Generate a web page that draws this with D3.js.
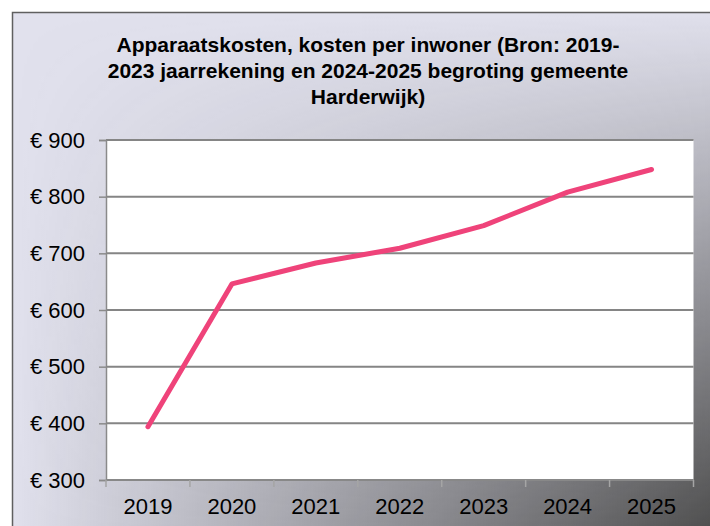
<!DOCTYPE html>
<html>
<head>
<meta charset="utf-8">
<script src="https://cdn.jsdelivr.net/npm/d3@7"></script>
<style>
  html, body { margin: 0; padding: 0; background: #fff; }
  #chart { width: 710px; height: 526px; }
</style>
</head>
<body>
<div id="chart"></div>
<script>
// --- data ---
const YEARS = ["2019", "2020", "2021", "2022", "2023", "2024", "2025"];
const KOSTEN = [394, 646, 683, 709, 749, 808, 848];
const Y_TICKS = [300, 400, 500, 600, 700, 800, 900];
const TITLE_LINES = [
  "Apparaatskosten, kosten per inwoner (Bron: 2019-",
  "2023 jaarrekening en 2024-2025 begroting gemeente",
  "Harderwijk)"
];

const W = 710, H = 526;
const FONT = "'Liberation Sans', Arial, sans-serif";

const svg = d3.select("#chart").append("svg")
  .attr("width", W).attr("height", H);

const defs = svg.append("defs");

// achtergrond: licht lavendel, donkerder naar rechtsonder
const gx = defs.append("linearGradient")
  .attr("id", "shadeX").attr("gradientUnits", "userSpaceOnUse")
  .attr("x1", 12).attr("y1", 0).attr("x2", 712).attr("y2", 0);
gx.append("stop").attr("offset", 0).attr("stop-color", "#4e4e4e").attr("stop-opacity", 0);
gx.append("stop").attr("offset", 1).attr("stop-color", "#4e4e4e").attr("stop-opacity", 1);

const gy = defs.append("linearGradient")
  .attr("id", "maskY").attr("gradientUnits", "userSpaceOnUse")
  .attr("x1", 0).attr("y1", 12).attr("x2", 0).attr("y2", 530);
gy.append("stop").attr("offset", 0).attr("stop-color", "#000");
gy.append("stop").attr("offset", 1).attr("stop-color", "#fff");

defs.append("mask").attr("id", "shadeMask")
  .append("rect").attr("x", 0).attr("y", 0).attr("width", W).attr("height", H)
  .attr("fill", "url(#maskY)");

svg.append("rect")
  .attr("x", 12.5).attr("y", 12.5).attr("width", 720).attr("height", 540)
  .attr("fill", "#e1e1ed").attr("stroke", "#5f5f5f").attr("stroke-width", 1.5);

svg.append("rect")
  .attr("x", 13).attr("y", 13).attr("width", 720).attr("height", 540)
  .attr("fill", "url(#shadeX)").attr("mask", "url(#shadeMask)");

// titel
svg.append("g")
  .selectAll("text")
  .data(TITLE_LINES)
  .join("text")
    .attr("x", 368)
    .attr("y", (d, i) => 52 + i * 26)
    .attr("text-anchor", "middle")
    .attr("font-family", FONT)
    .attr("font-weight", "bold")
    .attr("font-size", 21)
    .attr("fill", "#000")
    .text(d => d);

// plotgebied
const plot = { left: 106, top: 140, right: 693.5, bottom: 480 };

const x = d3.scaleBand()
  .domain(YEARS)
  .range([plot.left, plot.right]);

const y = d3.scaleLinear()
  .domain([300, 900])
  .range([plot.bottom, plot.top]);

svg.append("rect")
  .attr("x", plot.left).attr("y", plot.top)
  .attr("width", plot.right - plot.left).attr("height", plot.bottom - plot.top)
  .attr("fill", "#fff");

// rasterlijnen
svg.append("g")
  .selectAll("line")
  .data(Y_TICKS)
  .join("line")
    .attr("x1", plot.left).attr("x2", plot.right)
    .attr("y1", d => y(d)).attr("y2", d => y(d))
    .attr("stroke", "#858585").attr("stroke-width", 2);

// y-as
const yAxis = svg.append("g")
  .attr("transform", `translate(${plot.left},0)`)
  .call(d3.axisLeft(y).tickValues(Y_TICKS).tickSize(7).tickPadding(14)
    .tickFormat(d => "€ " + d));
yAxis.select(".domain").attr("stroke", "#8a8a8a").attr("stroke-width", 1.5);
yAxis.selectAll(".tick line").attr("stroke", "#8a8a8a").attr("stroke-width", 1.5);
yAxis.selectAll(".tick text")
  .attr("font-family", FONT).attr("font-size", 22).attr("fill", "#000");

// x-as: streepjes op de grenzen van de categorieën
const xAxis = svg.append("g")
  .attr("transform", `translate(0,${plot.bottom})`);
xAxis.append("line")
  .attr("x1", plot.left).attr("x2", plot.right)
  .attr("stroke", "#8a8a8a").attr("stroke-width", 1.5);
const bounds = YEARS.map(d => x(d)).concat([x(YEARS[YEARS.length - 1]) + x.bandwidth()]);
xAxis.selectAll("line.tk")
  .data(bounds)
  .join("line")
    .attr("class", "tk")
    .attr("x1", d => d).attr("x2", d => d)
    .attr("y1", 0).attr("y2", 7)
    .attr("stroke", "#a5a5a5").attr("stroke-width", 1.5);
xAxis.selectAll("text")
  .data(YEARS)
  .join("text")
    .attr("x", d => x(d) + x.bandwidth() / 2)
    .attr("y", 34)
    .attr("text-anchor", "middle")
    .attr("font-family", FONT).attr("font-size", 22).attr("fill", "#000")
    .text(d => d);

// lijn
const line = d3.line()
  .x((d, i) => x(YEARS[i]) + x.bandwidth() / 2)
  .y(d => y(d));

svg.append("path")
  .datum(KOSTEN)
  .attr("d", line)
  .attr("fill", "none")
  .attr("stroke", "#ef437a")
  .attr("stroke-width", 5)
  .attr("stroke-linejoin", "round")
  .attr("stroke-linecap", "round");
</script>
</body>
</html>
